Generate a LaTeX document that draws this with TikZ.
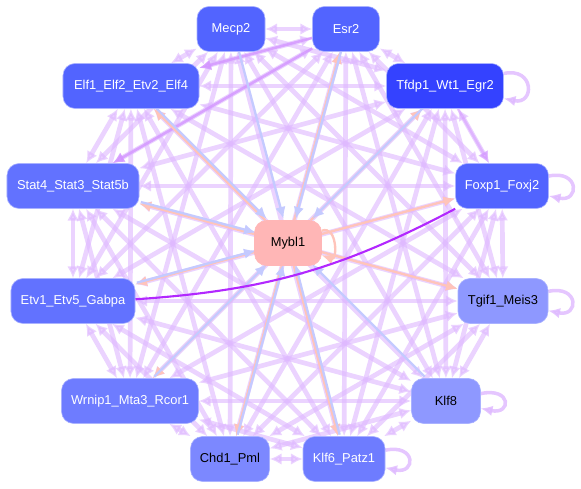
\documentclass[tikz,border=0pt]{standalone}
\usepackage{fontspec}
\setmainfont{Liberation Sans}
\usetikzlibrary{arrows.meta,backgrounds}
\definecolor{GeneDeep}{RGB}{52,66,255}
\definecolor{GeneA}{RGB}{82,100,255}
\definecolor{GeneB}{RGB}{98,114,255}
\definecolor{GeneC}{RGB}{110,124,255}
\definecolor{GeneD}{RGB}{124,136,255}
\definecolor{GeneLight}{RGB}{142,152,255}
\definecolor{GeneRim}{RGB}{170,178,255}
\definecolor{HubPink}{RGB}{255,182,182}
\definecolor{Lilac}{RGB}{222,184,255}
\definecolor{Orchid}{RGB}{212,150,255}
\definecolor{Violet}{RGB}{178,40,255}
\definecolor{RegBlue}{RGB}{196,202,255}
\definecolor{TgtSalmon}{RGB}{255,196,186}
\tikzset{
  >=Latex,
  gene/.style={draw=GeneRim,line width=.5pt,rounded corners=.36cm,text=white,align=center,font=\fontsize{11}{13}\selectfont,minimum height=1.35cm,inner sep=2pt},
  dark/.style={gene,text=black},
  link/.style={{Latex[length=10pt,width=10pt]}-{Latex[length=10pt,width=10pt]},line width=4pt,draw=Lilac,opacity=.62},
  strong/.style={-{Latex[length=10pt,width=9pt]},line width=2.2pt,draw=Orchid,opacity=.8},
  reg/.style={-{Latex[length=10pt,width=9pt]},line width=2pt,draw=RegBlue,transform canvas={xshift=1.3pt,yshift=1.3pt}},
  tgt/.style={-{Latex[length=10pt,width=9pt]},line width=2pt,draw=TgtSalmon},
  self/.style={-{Latex[length=10pt,width=9pt]},line width=3pt,draw=Lilac,opacity=.8,out=12,in=-12,loop,looseness=1,min distance=9.5mm}
}
\begin{document}
\begin{tikzpicture}[x=0.03cm,y=-0.03cm]
  \useasboundingbox (0,0) rectangle (581,489);
  % outer ring of regulators
  \node[gene,fill=GeneA,minimum width=2.04cm] (mecp) at (231,29) {Mecp2};
  \node[gene,fill=GeneA,minimum width=2.01cm] (esr) at (346,29) {Esr2};
  \node[gene,fill=GeneA,minimum width=4.08cm] (elf) at (131,86) {Elf1\_Elf2\_Etv2\_Elf4};
  \node[gene,fill=GeneDeep,minimum width=3.51cm] (tfdp) at (445,86) {Tfdp1\_Wt1\_Egr2};
  \node[gene,fill=GeneB,minimum width=3.96cm] (stat) at (73,186) {Stat4\_Stat3\_Stat5b};
  \node[gene,fill=GeneA,minimum width=2.79cm] (foxp) at (502,186) {Foxp1\_Foxj2};
  \node[gene,fill=GeneB,minimum width=3.72cm] (etv) at (73,301) {Etv1\_Etv5\_Gabpa};
  \node[dark,fill=GeneLight,minimum width=2.7cm] (tgif) at (503,301) {Tgif1\_Meis3};
  \node[gene,fill=GeneC,minimum width=4.11cm] (wrnip) at (130,401) {Wrnip1\_Mta3\_Rcor1};
  \node[dark,fill=GeneLight,minimum width=2.07cm] (klf8) at (446,401) {Klf8};
  \node[dark,fill=GeneD,minimum width=2.37cm] (chd) at (230,459) {Chd1\_Pml};
  \node[gene,fill=GeneC,minimum width=2.46cm] (klf6) at (344,459) {Klf6\_Patz1};
  % hub
  \node[dark,fill=HubPink,draw=HubPink,minimum width=2.01cm] (mybl) at (288,243) {Mybl1};
  \begin{scope}[on background layer]
    % every pair of the ring
    \foreach \a [count=\i] in {mecp,esr,tfdp,foxp,tgif,klf8,klf6,chd,wrnip,etv,stat,elf}
      \foreach \b [count=\j] in {mecp,esr,tfdp,foxp,tgif,klf8,klf6,chd,wrnip,etv,stat,elf}
        {\ifnum\j>\i \draw[link] (\a) -- (\b); \fi}
    \draw[strong] (esr) -- (stat);
    \draw[strong] (esr) -- (elf);
    \draw[strong,opacity=.5] (tfdp) -- (foxp);
    % self loops
    \foreach \g in {tfdp,foxp,tgif,klf8,klf6}
      \draw[self] (\g) to (\g);
    % hub links
    \foreach \g in {esr,elf,tfdp,stat,foxp,etv,wrnip,chd,klf6,tgif}
      \draw[tgt] (mybl) -- (\g);
    \foreach \g in {mecp,esr,elf,tfdp,stat,etv,wrnip,chd,klf6,klf8}
      \draw[reg] (\g) -- (mybl);
    \draw[tgt,out=20,in=-20,loop,looseness=1,min distance=5mm] (mybl) to (mybl);
    \draw[line width=1.8pt,draw=Violet] (foxp.south west) to[bend left=12] (etv);
  \end{scope}
\end{tikzpicture}
\end{document}
